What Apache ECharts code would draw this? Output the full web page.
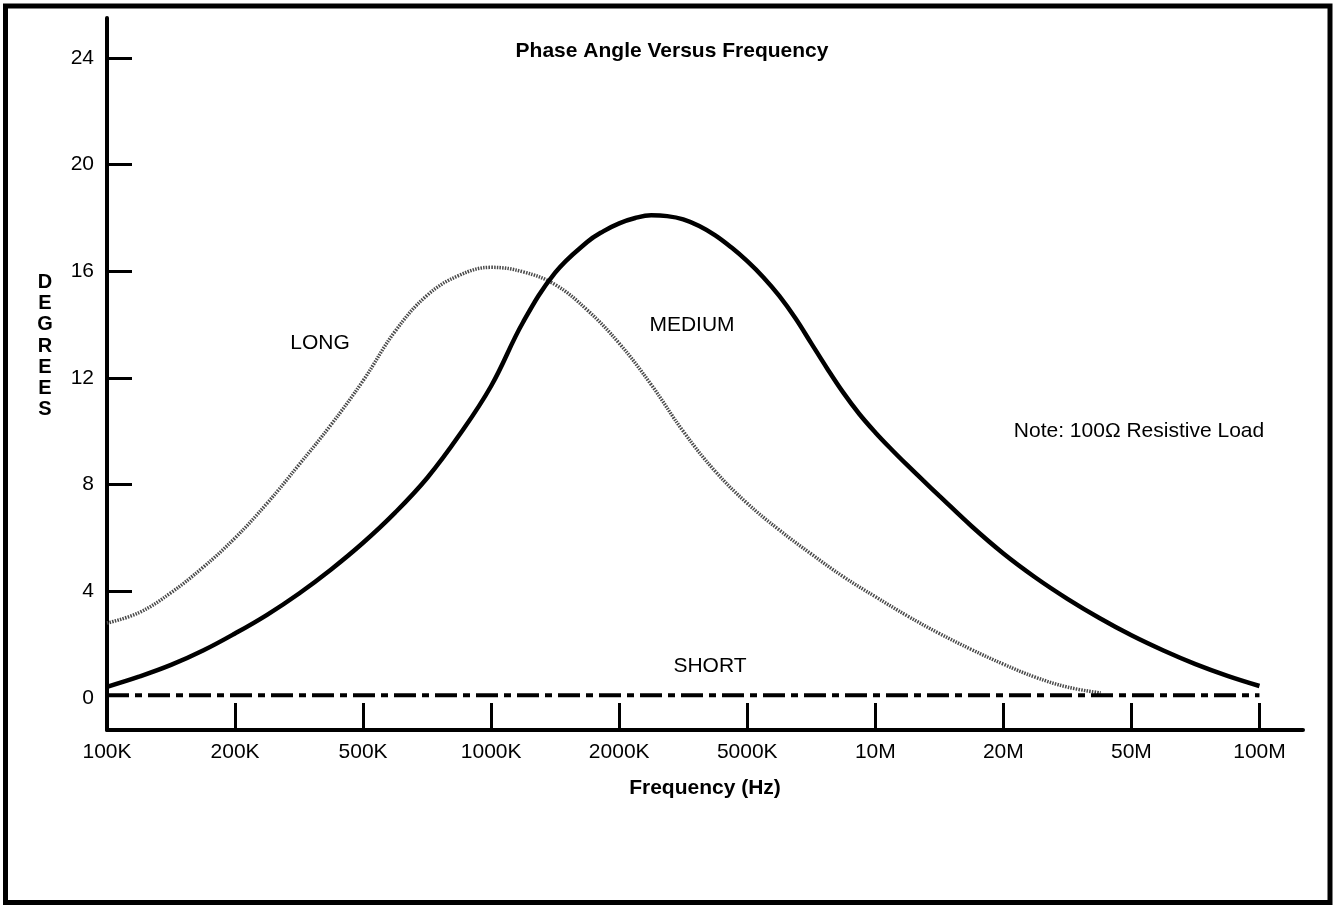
<!DOCTYPE html>
<html>
<head>
<meta charset="utf-8">
<title>Phase Angle Versus Frequency</title>
<script src="https://cdn.jsdelivr.net/npm/echarts@6/dist/echarts.min.js"></script>
<style>
  html, body { margin: 0; padding: 0; background: #fff; }
  #chart { width: 1334px; height: 905px; }
</style>
</head>
<body>
<div id="chart"></div>
<script>
// x values are positions on the (evenly spaced) frequency scale: 0 = 100K ... 9 = 100M
var freqLabels = ['100K', '200K', '500K', '1000K', '2000K', '5000K', '10M', '20M', '50M', '100M'];
var freqTicks = [0, 1, 2, 3, 4, 5, 6, 7, 8, 9];
var degreeTicks = [0, 4, 8, 12, 16, 20, 24];

// LONG cable
var longData = [
	[0, 2.81], [0.25, 3.2], [0.5, 3.95], [0.75, 4.9], [1.0, 6.0], [1.25, 7.3],
	[1.5, 8.75], [1.75, 10.25], [2.0, 11.9], [2.25, 13.75], [2.5, 15.1], [2.75, 15.85],
	[3.0, 16.15], [3.25, 15.98], [3.5, 15.5], [3.75, 14.55], [4.0, 13.3], [4.25, 11.75],
	[4.5, 10.0], [4.75, 8.5], [5.0, 7.3], [5.25, 6.3], [5.5, 5.4], [5.75, 4.55],
	[6.0, 3.8], [6.25, 3.08], [6.5, 2.42], [6.75, 1.82], [7.0, 1.27], [7.25, 0.78],
	[7.5, 0.41], [7.76, 0.19]
];

// MEDIUM cable
var mediumData = [
	[0, 0.42], [0.25, 0.8], [0.5, 1.24], [0.75, 1.78], [1.0, 2.42], [1.25, 3.12],
	[1.5, 3.92], [1.75, 4.82], [2.0, 5.82], [2.25, 6.95], [2.5, 8.25], [2.75, 9.85],
	[3.0, 11.7], [3.25, 14.1], [3.5, 15.95], [3.75, 17.1], [3.875, 17.5], [4.0, 17.8],
	[4.125, 18.0], [4.25, 18.1], [4.375, 18.07], [4.5, 17.95], [4.625, 17.7], [4.75, 17.35],
	[4.875, 16.9], [5.0, 16.38], [5.125, 15.78], [5.25, 15.08], [5.375, 14.25], [5.5, 13.3],
	[5.625, 12.35], [5.75, 11.45], [5.875, 10.65], [6.0, 9.96], [6.125, 9.33], [6.25, 8.73],
	[6.375, 8.15], [6.5, 7.58], [6.75, 6.45], [7.0, 5.42], [7.25, 4.52], [7.5, 3.72],
	[7.75, 3.0], [8.0, 2.35], [8.25, 1.78], [8.5, 1.27], [8.75, 0.83], [9.0, 0.45]
];

// SHORT cable
var shortData = [[0, 0.1], [9, 0.1]];

var FONT = '"Liberation Sans", Arial, Helvetica, sans-serif';

var chart = echarts.init(document.getElementById('chart'));

var option = {
	animation: false,
	backgroundColor: '#fff',
	title: {
		text: 'Phase Angle Versus Frequency',
		left: 672,
		top: 41,
		padding: 0,
		textAlign: 'center',
		textStyle: {
			fontFamily: FONT,
			fontSize: 21,
			fontWeight: 'bold',
			color: '#000'
		}
	},
	grid: {
		left: 107,
		top: 18,
		width: 1196,
		height: 712,
		containLabel: false
	},
	xAxis: {
		type: 'value',
		min: 0,
		max: 9.34,
		name: 'Frequency (Hz)',
		nameLocation: 'middle',
		nameGap: 48,
		nameTextStyle: {
			fontFamily: FONT,
			fontSize: 21,
			fontWeight: 'bold',
			color: '#000'
		},
		axisLine: {
			onZero: false,
			lineStyle: { color: '#000', width: 4 }
		},
		axisTick: {
			show: true,
			inside: true,
			length: 27,
			customValues: freqTicks.slice(1),
			lineStyle: { color: '#000', width: 3 }
		},
		axisLabel: {
			customValues: freqTicks,
			margin: 12,
			fontFamily: FONT,
			fontSize: 21,
			color: '#000',
			formatter: function (v) {
				return freqLabels[Math.round(v)];
			}
		},
		splitLine: { show: false }
	},
	yAxis: {
		type: 'value',
		min: -1.2,
		max: 25.5,
		axisLine: {
			onZero: false,
			lineStyle: { color: '#000', width: 4 }
		},
		axisTick: {
			show: true,
			inside: true,
			length: 25,
			customValues: degreeTicks.slice(1),
			lineStyle: { color: '#000', width: 3 }
		},
		axisLabel: {
			customValues: degreeTicks,
			margin: 13,
			fontFamily: FONT,
			fontSize: 21,
			color: '#000'
		},
		splitLine: { show: false }
	},
	series: [
		{
			name: 'LONG',
			type: 'line',
			data: longData,
			smooth: 0.4,
			symbol: 'none',
			lineStyle: { color: '#4a4a4a', width: 3.5, type: [1.5, 1.2] }
		},
		{
			name: 'MEDIUM',
			type: 'line',
			data: mediumData,
			smooth: 0.4,
			symbol: 'none',
			lineStyle: { color: '#000', width: 4.5 }
		},
		{
			name: 'SHORT',
			type: 'line',
			data: shortData,
			symbol: 'none',
			lineStyle: { color: '#000', width: 4, type: [22, 6, 7, 6] }
		}
	],
	graphic: [
		{
			type: 'rect',
			shape: { x: 5.5, y: 6, width: 1324.5, height: 896.5 },
			style: { fill: 'none', stroke: '#000', lineWidth: 5 },
			silent: true
		},
		{
			type: 'text',
			x: 45, y: 346,
			style: {
				text: 'D\nE\nG\nR\nE\nE\nS',
				fontFamily: FONT, fontSize: 20, fontWeight: 'bold',
				lineHeight: 21.3, fill: '#000',
				align: 'center', verticalAlign: 'middle'
			}
		},
		{
			type: 'text',
			x: 320, y: 343,
			style: { text: 'LONG', fontFamily: FONT, fontSize: 21, fill: '#000', align: 'center', verticalAlign: 'middle' }
		},
		{
			type: 'text',
			x: 692, y: 325,
			style: { text: 'MEDIUM', fontFamily: FONT, fontSize: 21, fill: '#000', align: 'center', verticalAlign: 'middle' }
		},
		{
			type: 'text',
			x: 710, y: 666,
			style: { text: 'SHORT', fontFamily: FONT, fontSize: 21, fill: '#000', align: 'center', verticalAlign: 'middle' }
		},
		{
			type: 'text',
			x: 1139, y: 431,
			style: { text: 'Note: 100\u03A9 Resistive Load', fontFamily: FONT, fontSize: 21, fill: '#000', align: 'center', verticalAlign: 'middle' }
		}
	]
};

chart.setOption(option);
window.onresize = chart.resize;
</script>
</body>
</html>
